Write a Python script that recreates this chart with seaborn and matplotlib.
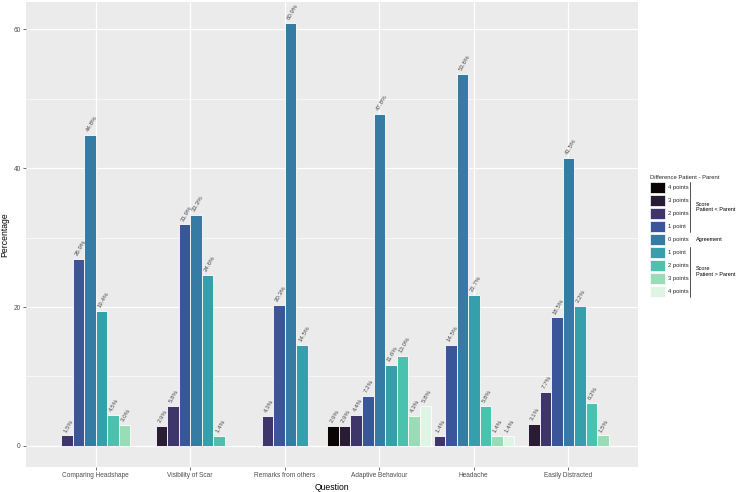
import numpy as np
import pandas as pd
import matplotlib
matplotlib.use("Agg")
import matplotlib.pyplot as plt
from matplotlib.patches import Patch
from matplotlib.ticker import FixedLocator
import seaborn as sns

# ---------------- data ----------------
questions = ["Comparing Headshape", "Visibility of Scar", "Remarks from others",
             "Adaptive Behaviour", "Headache", "Easily Distracted"]
diff_levels = ["-4", "-3", "-2", "-1", "0", "+1", "+2", "+3", "+4"]
legend_labels = ["4 points", "3 points", "2 points", "1 point", "0 points",
                 "1 point", "2 points", "3 points", "4 points"]
nan = np.nan
pct_headshape = [nan, nan, 1.5, 26.9, 44.8, 19.4, 4.5, 3.0, nan]
pct_scar = [nan, 2.9, 5.8, 31.9, 33.3, 24.6, 1.4, nan, nan]
pct_remarks = [nan, nan, 4.3, 20.3, 60.9, 14.5, nan, nan, nan]
pct_adaptive = [2.9, 2.9, 4.4, 7.2, 47.8, 11.6, 13.0, 4.3, 5.8]
pct_headache = [nan, nan, 1.4, 14.5, 53.6, 21.7, 5.8, 1.4, 1.4]
pct_distracted = [nan, 3.1, 7.7, 18.5, 41.5, 20.2, 6.2, 1.5, nan]
# bar labels as printed in the chart (one label reads "2.2%")
label_distracted = [None, "3.1%", "7.7%", "18.5%", "41.5%", "2.2%", "6.2%", "1.5%", None]
yticks = [0, 20, 40, 60]

all_pct = [pct_headshape, pct_scar, pct_remarks, pct_adaptive, pct_headache, pct_distracted]
all_labels = [None, None, None, None, None, label_distracted]

# ---------------- build long table (bars centred per question) ----------------
bar_w = 0.1217
rows = []
for qi, (vals, labs) in enumerate(zip(all_pct, all_labels)):
    present = [(k, v) for k, v in enumerate(vals) if not np.isnan(v)]
    n = len(present)
    for j, (k, v) in enumerate(present):
        lab = labs[k] if labs is not None else f"{v:.1f}%"
        rows.append(dict(question=questions[qi], level=diff_levels[k],
                         pos=qi + (j - (n - 1) / 2) * bar_w, pct=v, label=lab))
df = pd.DataFrame(rows)

cmap = sns.color_palette("mako", as_cmap=True)
colors = [cmap(i / (len(diff_levels) - 1)) for i in range(len(diff_levels))]
palette = dict(zip(diff_levels, colors))

# ---------------- style ----------------
sns.set_theme(style="darkgrid", rc={
    "axes.facecolor": "#EBEBEB",
    "grid.color": "white",
    "figure.facecolor": "white",
})
plt.rcParams["font.family"] = ["Liberation Sans", "DejaVu Sans"]

fig = plt.figure(figsize=(7.38, 4.92), dpi=100)
ax = fig.add_axes([26 / 738, 1 - 467 / 492, (638 - 26) / 738, (467 - 2) / 492])

sns.barplot(data=df, x="pos", y="pct", hue="level", hue_order=diff_levels,
            palette=palette, native_scale=True, dodge=False, width=1.0,
            saturation=1, errorbar=None, edgecolor="white", linewidth=0.6,
            legend=False, ax=ax)

for _, r in df.iterrows():
    ax.text(r["pos"], r["pct"] + 0.35, r["label"], rotation=60, rotation_mode="anchor",
            ha="left", va="bottom", fontsize=4.4, color="#4D4D4D")

ax.set_xlim(-0.738, 5.738)
ax.set_ylim(-3.045, 63.945)
ax.set_xticks(range(len(questions)))
ax.set_xticklabels(questions)
ax.set_yticks(yticks)
ax.yaxis.set_minor_locator(FixedLocator([10, 30, 50]))
ax.grid(True, which="major", color="white", linewidth=0.9)
ax.grid(True, which="minor", axis="y", color="white", linewidth=0.45)
ax.set_axisbelow(True)
for s in ax.spines.values():
    s.set_visible(False)
ax.tick_params(axis="both", which="major", length=2.2, width=0.5, color="#333333",
               bottom=True, left=True, pad=1.5, labelsize=4.7, labelcolor="#4D4D4D")
ax.tick_params(axis="both", which="minor", length=0)
ax.set_xlabel("Question", fontsize=6.2, color="black", labelpad=3)
ax.set_ylabel("Percentage", fontsize=6.2, color="black", labelpad=3)

# ---------------- legend ----------------
handles = [Patch(facecolor=c, edgecolor="white", linewidth=0.5) for c in colors]
leg = fig.legend(handles, legend_labels, loc="upper left",
                 bbox_to_anchor=(650 / 738, 1 - 175 / 492),
                 title="Difference Patient - Parent", title_fontsize=4.2,
                 fontsize=4.2, frameon=False, alignment="left",
                 handlelength=2.5, handleheight=2.5, labelspacing=0.35,
                 handletextpad=0.6, borderpad=0, borderaxespad=0)
fig.canvas.draw()
inv = fig.transFigure.inverted()
exts = [inv.transform(h.get_window_extent().get_points()) for h in leg.legend_handles]
xline = 690 / 738
xtxt = 696 / 738

def bracket(i0, i1, text):
    top = exts[i0][1][1]
    bot = exts[i1][0][1]
    fig.add_artist(plt.Line2D([xline, xline], [bot, top], transform=fig.transFigure,
                              color="#333333", linewidth=0.6))
    fig.text(xtxt, (top + bot) / 2, text, fontsize=4.0, va="center", ha="left", color="black")

bracket(0, 3, "Score\nPatient < Parent")
bracket(5, 8, "Score\nPatient > Parent")
mid0 = (exts[4][0][1] + exts[4][1][1]) / 2
fig.text(xtxt, mid0, "Agreement", fontsize=4.0, va="center", ha="left", color="black")

fig.savefig("out.png", dpi=100)
